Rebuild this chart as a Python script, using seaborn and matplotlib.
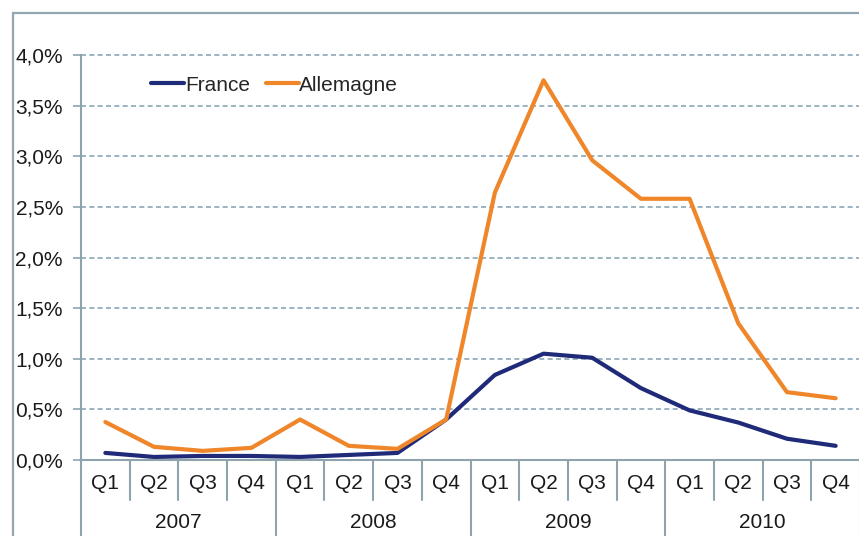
import matplotlib
matplotlib.use("Agg")
import matplotlib.pyplot as plt
import matplotlib.transforms as mtransforms
from matplotlib.patches import Rectangle
import seaborn as sns
import pandas as pd

years = ["2007", "2008", "2009", "2010"]
quarters = ["Q1", "Q2", "Q3", "Q4"]
france = [0.07, 0.03, 0.04, 0.04, 0.03, 0.05, 0.07, 0.40,
          0.84, 1.05, 1.01, 0.71, 0.49, 0.37, 0.21, 0.14]
allemagne = [0.375, 0.13, 0.09, 0.12, 0.40, 0.14, 0.11, 0.40,
             2.64, 3.75, 2.96, 2.58, 2.58, 1.35, 0.67, 0.61]
yticks = [0.0, 0.5, 1.0, 1.5, 2.0, 2.5, 3.0, 3.5, 4.0]
ytick_labels = ["0,0%", "0,5%", "1,0%", "1,5%", "2,0%", "2,5%", "3,0%", "3,5%", "4,0%"]

n = len(years) * len(quarters)
xlabels = [q for _ in years for q in quarters]
df = pd.DataFrame({
    "x": list(range(n)) * 2,
    "value": france + allemagne,
    "pays": ["France"] * n + ["Allemagne"] * n,
})

sns.set_theme(style="white")
plt.rcParams["font.family"] = ["Liberation Sans", "DejaVu Sans"]

fig = plt.figure(figsize=(8.59, 5.36), dpi=100)
W, H = 859, 536
ax = fig.add_axes([81 / W, 76 / H, (860 - 81) / W, 405 / H])

# outer frame
fig.patches.append(Rectangle((13 / W, -0.1), 1.2, (536 - 13) / H + 0.1,
                             transform=fig.transFigure, fill=False,
                             edgecolor="#93a7b2", linewidth=1.6))

sns.lineplot(data=df, x="x", y="value", hue="pays",
             palette={"France": "#1f2a78", "Allemagne": "#f0862a"},
             linewidth=3.0, ax=ax, legend=True)

FS = 15
ax.set_xlim(-0.5, n - 0.5)
ax.set_ylim(0, 4.0)
ax.set_yticks(yticks)
ax.set_yticklabels(ytick_labels, fontsize=FS, color="#1a1a1a")
ax.set_xticks(range(n))
ax.set_xticklabels(xlabels, fontsize=FS, color="#1a1a1a")
ax.tick_params(axis="x", length=0, pad=10)
ax.tick_params(axis="y", length=6, width=1.2, color="#8fa3ae", pad=7, left=True)
ax.set_xlabel("")
ax.set_ylabel("")

for y in yticks[1:]:
    ax.axhline(y, color="#8aa7b8", linewidth=1.2, linestyle=(0, (3, 2)),
               zorder=0, clip_on=False)

for s in ["top", "right"]:
    ax.spines[s].set_visible(False)
ax.spines["left"].set_color("#8fa3ae")
ax.spines["left"].set_linewidth(1.5)
ax.spines["bottom"].set_color("#8fa3ae")
ax.spines["bottom"].set_linewidth(1.5)

# category table separators
trans = mtransforms.blended_transform_factory(ax.transData, ax.transAxes)
short_end = -(500 - 460) / 405
long_end = -(540 - 460) / 405
for k in range(1, n + 1):
    xb = k - 0.5
    end = long_end if k % 4 == 0 else short_end
    ax.plot([xb, xb], [0, end], transform=trans, color="#8fa3ae",
            linewidth=1.5, clip_on=False)
ax.plot([-0.5, -0.5], [0, long_end], transform=trans, color="#8fa3ae",
        linewidth=1.5, clip_on=False)

for i, yr in enumerate(years):
    ax.text(i * 4 + 1.5, -(522 - 460) / 405, yr, transform=trans,
            ha="center", va="center", fontsize=FS, color="#1a1a1a")

leg = ax.legend(loc="upper left", bbox_to_anchor=(0.066, 0.995), ncol=2,
                frameon=False, fontsize=FS, handlelength=1.6,
                handletextpad=0.02, columnspacing=0.75, title=None)
for line in leg.get_lines():
    line.set_linewidth(3.0)

fig.savefig("out.png", dpi=100)
